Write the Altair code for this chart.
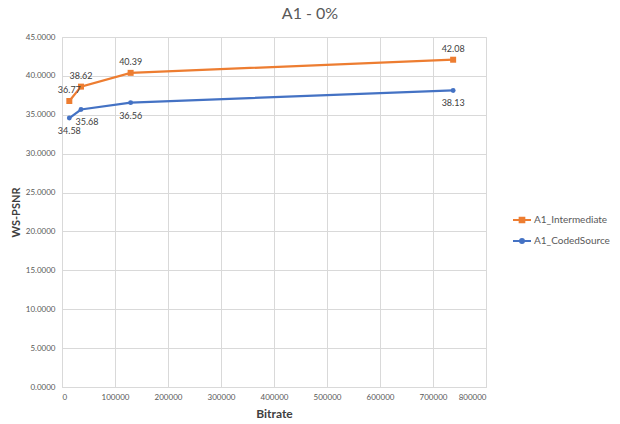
import altair as alt
import pandas as pd

# Series names and colours
series_names = ["A1_Intermediate", "A1_CodedSource"]
series_colors = ["#ED7D31", "#4472C4"]

# Bitrate (x) per rate point
bitrate = [13800, 35800, 129500, 738000]

# WS-PSNR (y) per series
psnr_intermediate = [36.77, 38.62, 40.39, 42.08]
psnr_coded_source = [34.58, 35.68, 36.56, 38.13]

# Axis tick values
x_ticks = [0, 100000, 200000, 300000, 400000, 500000, 600000, 700000, 800000]
y_ticks = [0, 5, 10, 15, 20, 25, 30, 35, 40, 45]

rows = []
for name, values in zip(series_names, [psnr_intermediate, psnr_coded_source]):
    for i, (b, v) in enumerate(zip(bitrate, values)):
        rows.append({"series": name, "idx": i, "bitrate": b, "psnr": v})
df = pd.DataFrame(rows)

FONT = "Lato"
GRID = "#D9D9D9"
TXT = "#595959"

x_enc = alt.X(
    "bitrate:Q",
    scale=alt.Scale(domain=[0, 800000], nice=False),
    axis=alt.Axis(
        title="Bitrate", values=x_ticks, format="d",
        labelFontSize=8, labelColor=TXT, labelFont=FONT, labelPadding=6,
        labelOverlap=False,
        titleFontSize=12, titleFont=FONT, titleColor="#404040", titleFontWeight="bold",
        titlePadding=7, ticks=False, domainColor=GRID, gridColor=GRID,
    ),
)
y_enc = alt.Y(
    "psnr:Q",
    scale=alt.Scale(domain=[0, 45], nice=False),
    axis=alt.Axis(
        title="WS-PSNR", values=y_ticks, tickCount=10, format=".4f",
        labelFontSize=8, labelColor=TXT, labelFont=FONT, labelPadding=7,
        labelOverlap=False,
        titleFontSize=11, titleFont=FONT, titleColor="#404040", titleFontWeight="bold",
        titlePadding=4, ticks=False, domain=False, gridColor=GRID,
    ),
)

# Legend symbols: a short line with the series marker on it
line_square = "M-1,0H1M-0.26,-0.26H0.26V0.26H-0.26Z"
line_circle = "M-1,0H1M-0.22,0A0.22,0.22 0 1,0 0.22,0A0.22,0.22 0 1,0 -0.22,0"
legend_props = dict(
    title=None, orient="none", legendX=450, legendY=173,
    labelFont=FONT, labelFontSize=10, labelColor=TXT,
    symbolSize=324, symbolStrokeWidth=2, symbolOpacity=1,
    rowPadding=4, labelOffset=2,
)
color_scale = alt.Scale(domain=series_names, range=series_colors)
color_enc = alt.Color("series:N", scale=color_scale, legend=alt.Legend(**legend_props))
shape_enc = alt.Shape(
    "series:N",
    scale=alt.Scale(domain=series_names, range=[line_square, line_circle]),
    legend=alt.Legend(**legend_props),
)

base = alt.Chart(df)

lines = base.mark_line(strokeWidth=2.25).encode(
    x=x_enc, y=y_enc, color=color_enc, detail="series:N"
)

squares = base.transform_filter(alt.datum.series == series_names[0]).mark_square(
    size=36, opacity=1
).encode(x=x_enc, y=y_enc, color=color_enc)

circles = base.transform_filter(alt.datum.series == series_names[1]).mark_circle(
    size=24, opacity=1
).encode(x=x_enc, y=y_enc, color=color_enc)

label_style = dict(fontSize=9, font=FONT, color="#404040")
label_text = alt.Text("psnr:Q", format=".2f")

labels_top = base.transform_filter(alt.datum.series == series_names[0]).mark_text(
    dy=-11, **label_style
).encode(x=x_enc, y=y_enc, text=label_text)

labels_bottom = base.transform_filter(
    (alt.datum.series == series_names[1]) & (alt.datum.idx != 1)
).mark_text(dy=13, **label_style).encode(x=x_enc, y=y_enc, text=label_text)

labels_bottom_shifted = base.transform_filter(
    (alt.datum.series == series_names[1]) & (alt.datum.idx == 1)
).mark_text(dy=13, dx=6, **label_style).encode(x=x_enc, y=y_enc, text=label_text)

# Zero-size points that carry the shape legend
legend_layer = base.mark_point(filled=False, strokeWidth=2, size=0).encode(
    x=x_enc, y=y_enc, color=color_enc, shape=shape_enc
)

chart = alt.layer(
    lines, squares, circles, labels_top, labels_bottom, labels_bottom_shifted, legend_layer
).properties(
    width=424,
    height=350,
    title=alt.Title(
        "A1 - 0%", fontSize=16, font=FONT, color=TXT, fontWeight="normal",
        anchor="middle", dx=36, offset=11,
    ),
    autosize=alt.AutoSizeParams(type="none"),
    padding={"left": 62, "top": 37, "right": 134, "bottom": 37},
).configure_view(stroke=None).configure(background="white")

chart.save("out.html", embed_options={"renderer": "svg", "actions": False})
